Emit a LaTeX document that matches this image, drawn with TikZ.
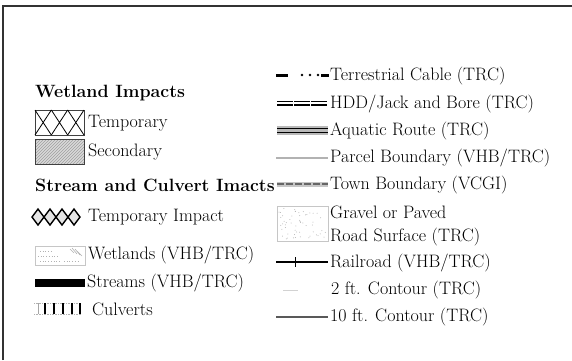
\documentclass[tikz,border=0pt]{standalone}
\usetikzlibrary{patterns}
\begin{document}
\begin{tikzpicture}[x=1pt, y=-1pt,
                font=\fontsize{18}{20}\selectfont,
                lbl/.style={anchor=west, inner sep=0pt},
                head/.style={anchor=west, inner sep=0pt, font=\fontsize{17.8}{20}\selectfont\bfseries},
                symbox/.style={draw=black!75, line width=0.8pt},
                faint/.style={draw=gray!45, line width=0.6pt},
                keyline/.style={line width=1.2pt}
            ]
            \useasboundingbox (0,0) rectangle (572,360);
            \draw[line width=1.8pt, black!80] (2.8,360) -- (2.8,5.6) -- (572,5.6);
            % left column
            \node[head] (wethead) at (35,93) {Wetland Impacts};
            \node[lbl] (temp) at (88,123) {Temporary};
            \node[lbl] (second) at (88,152) {Secondary};
            \node[head] (strhead) at (35,185) {Stream and Culvert Imacts};
            \node[lbl] (tempimp) at (88,217) {Temporary Impact};
            \node[lbl] (wetland) at (88,255) {Wetlands (VHB/TRC)};
            \node[lbl] (stream) at (87,283) {Streams (VHB/TRC)};
            \node[lbl] (culvert) at (92,309) {Culverts};
            \draw[symbox] (35,110) rectangle (84,135);
            \foreach \i in {0,1,2}
                \draw[line width=0.8pt] (35+\i*16.33,110) -- (35+\i*16.33+16.33,135)
                                        (35+\i*16.33,135) -- (35+\i*16.33+16.33,110);
            \fill[gray!30] (35,139) rectangle (84,164);
            \fill[pattern=north east lines, pattern color=gray!75] (35,139) rectangle (84,164);
            \draw[symbox] (35,139) rectangle (84,164);
            \foreach \i in {0,...,3}
                \draw[line width=1.4pt, fill=gray!20] (32+\i*12,217) -- (38+\i*12,209) -- (44+\i*12,217) -- (38+\i*12,225) -- cycle;
            \draw[faint] (35,246) rectangle (85,265);
            \draw[gray!60, dotted, line width=0.7pt] (40,251) -- (52,251) (38,256) -- (58,256) (40,261) -- (60,261) (64,261) -- (80,261);
            \draw[gray!60, line width=0.6pt] (70,249) -- (74,253) (72,248) -- (77,254) (75,249) -- (80,255) (77,251) -- (82,256);
            \fill (35,279) rectangle (85,287);
            \draw[gray!60, densely dotted, line width=0.6pt] (34,303) -- (81,303) (34,314) -- (81,314);
            \foreach \cx in {45,54,63,72,80}
                \draw[line width=1.2pt] (\cx,303) -- (\cx,314);
            \draw[gray!70, line width=0.9pt] (38,303) -- (38,314);
            % right column
            \node[lbl] (cable) at (330,76) {Terrestrial Cable (TRC)};
            \node[lbl] (hdd) at (330,104) {HDD/Jack and Bore (TRC)};
            \node[lbl] (aquatic) at (330,131) {Aquatic Route (TRC)};
            \node[lbl] (parcel) at (330,158) {Parcel Boundary (VHB/TRC)};
            \node[lbl] (town) at (330,185) {Town Boundary (VCGI)};
            \node[lbl] (gravel) at (330,212) {Gravel or Paved};
            \node[lbl] (road) at (330,237) {Road Surface (TRC)};
            \node[lbl] (rail) at (330,263) {Railroad (VHB/TRC)};
            \node[lbl] (ctwo) at (331,290) {2 ft. Contour (TRC)};
            \node[lbl] (cten) at (330,317) {10 ft. Contour (TRC)};
            \draw[line width=3pt] (276,75) -- (288,75) (321,75) -- (329,75);
            \foreach \dx in {302,310,318}
                \fill (\dx,75) circle (1.3);
            \foreach \dx in {277,294,311}
                \draw[line width=1.5pt, double=white, double distance=2pt] (\dx,103) -- (\dx+16,103);
            \draw[gray!55, line width=9pt] (277,130) -- (328,130);
            \draw[line width=1pt] (277,128) -- (328,128) (277,132.5) -- (328,132.5);
            \draw[gray!60, keyline] (276,158) -- (328,158);
            \draw[gray!45, line width=5pt] (277,184) -- (328,184);
            \draw[black!60, line width=1.8pt, dash pattern=on 7pt off 2pt] (277,184) -- (328,184);
            \draw[faint] (277,206) rectangle (328,241);
            \pgfmathsetseed{7}
            \foreach \k in {1,...,55}
                \fill[gray!60] (279+47*rnd,208+31*rnd) circle (0.5);
            \draw[keyline] (276,262) -- (328,262);
            \draw[line width=1pt] (295,257) -- (295,267);
            \draw[gray!35, line width=1pt] (283,290) -- (298,290);
            \draw[black!65, line width=1.4pt] (276,317) -- (328,317);
        \end{tikzpicture}
\end{document}
